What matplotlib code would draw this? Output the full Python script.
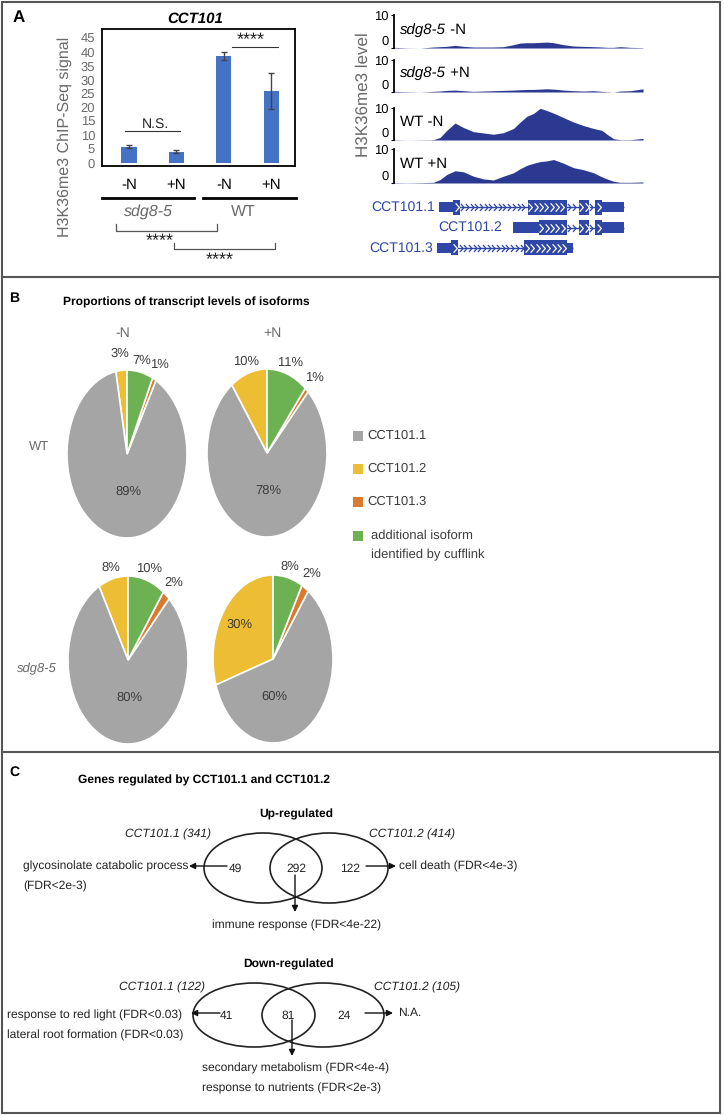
import matplotlib
matplotlib.use('Agg')
import matplotlib.pyplot as plt
from matplotlib import font_manager as fm
from matplotlib.patches import Ellipse, Rectangle
from matplotlib.path import Path
import numpy as np

W, H = 724, 1115

# ---------------- data ----------------
# panel A: ChIP-seq signal at CCT101
conditions = ['-N', '+N', '-N', '+N']
genotypes = ['sdg8-5', 'WT']
chip_signal = [6.0, 4.2, 38.5, 26.0]
chip_err = [0.7, 0.5, 1.4, 6.5]

# panel A: browser tracks (position along locus, coverage)
track_names = [('sdg8-5', ' -N'), ('sdg8-5', ' +N'), ('', 'WT -N'), ('', 'WT +N')]
track_pos = [222, 260, 300, 340, 360, 380, 405, 430, 460, 490, 520, 550, 580, 600,
             620, 640, 660, 680, 700, 730, 760, 790, 820, 845, 860, 880, 900, 930, 968]
sdg_minus = [0.2, 0.05, 0.0, 0.3, 0.4, 0.5, 0.8, 0.5, 0.3, 0.3, 0.3, 0.4, 1.0, 1.5,
             1.6, 1.6, 1.7, 1.8, 1.6, 1.0, 0.6, 0.5, 0.4, 0.3, 0.2, 0.2, 0.4, 0.2, 0.1]
sdg_plus = [0.2, 0.1, 0.0, 0.2, 0.3, 0.5, 0.6, 0.4, 0.2, 0.3, 0.4, 0.5, 0.6, 0.7,
            0.8, 0.8, 0.9, 1.0, 0.9, 0.6, 0.4, 0.3, 0.4, 0.2, 0.1, 0.0, 0.3, 0.4, 1.0]
wt_minus = [0.1, 0.0, 0.05, 0.1, 0.8, 3.0, 5.3, 3.9, 2.6, 2.2, 1.8, 2.3, 3.6, 5.6,
            7.4, 8.3, 9.9, 9.2, 8.4, 7.0, 5.6, 4.5, 3.6, 3.0, 1.8, 0.4, 0.1, 0.1, 0.5]
wt_plus = [0.1, 0.05, 0.1, 0.2, 1.0, 2.5, 3.6, 3.3, 2.0, 1.2, 0.9, 2.0, 3.0, 4.2,
           5.2, 5.8, 6.3, 6.5, 6.9, 5.8, 4.5, 3.9, 3.0, 1.8, 1.2, 0.5, 0.2, 0.2, 0.3]
track_values = [sdg_minus, sdg_plus, wt_minus, wt_plus]

# gene models (same position units as tracks)
gene_names = ['CCT101.1', 'CCT101.2', 'CCT101.3']
gene_utr = [[(358, 400), (845, 912)], [(578, 655), (845, 910)], [(350, 392), (740, 758)]]
gene_cds = [[(400, 420), (622, 740), (775, 805), (825, 845)],
            [(655, 740), (775, 805), (825, 845)],
            [(392, 415), (612, 740)]]

# panel B: isoform proportions (%)
isoforms = ['CCT101.1', 'CCT101.2', 'CCT101.3', 'additional isoform\nidentified by cufflink']
pct_wt_minus = [89, 3, 1, 7]
pct_wt_plus = [78, 10, 1, 11]
pct_sdg_minus = [80, 8, 2, 10]
pct_sdg_plus = [60, 30, 2, 8]

# panel C: venn counts
up_counts = [49, 292, 122]
down_counts = [41, 81, 24]
up_terms_left = ['glycosinolate catabolic process', '(FDR<2e-3)']
up_terms_right = ['cell death (FDR<4e-3)']
up_terms_both = ['immune response (FDR<4e-22)']
down_terms_left = ['response to red light (FDR<0.03)', 'lateral root formation (FDR<0.03)']
down_terms_right = ['N.A.']
down_terms_both = ['secondary metabolism (FDR<4e-4)', 'response to nutrients (FDR<2e-3)']

# ---------------- style ----------------
def has_font(name):
    try:
        fm.findfont(fm.FontProperties(family=name), fallback_to_default=False)
        return True
    except Exception:
        return False

REG = 'Liberation Sans' if has_font('Liberation Sans') else 'DejaVu Sans'
if has_font('Liberation Sans Narrow'):
    NAR, NS = 'Liberation Sans Narrow', 1.0
else:
    NAR, NS = REG, 0.84
plt.rcParams['font.family'] = [REG, 'DejaVu Sans']
plt.rcParams['text.hinting'] = 'no_hinting'
plt.rcParams['text.hinting_factor'] = 1

BAR_BLUE = '#4472c4'
TRACK = '#2b3990'
GENE = '#2e46a6'
GREY_TXT = '#6a6a6a'
PIE_COLORS = ['#a5a5a5', '#edbd33', '#d97a30', '#6db252']
PIE_TXT = '#3c3c3c'
FS = 10.2 * NS  # narrow text size

fig = plt.figure(figsize=(W / 100, H / 100), dpi=100)


def px_axes(l, t, r, b):
    return fig.add_axes([l / W, 1 - b / H, (r - l) / W, (b - t) / H])


ov = fig.add_axes([0, 0, 1, 1])
ov.set_xlim(0, W)
ov.set_ylim(H, 0)
ov.axis('off')
ov.set_zorder(10)

# frame
ov.add_patch(Rectangle((2, 2), 718, 1111, fill=False, ec='#555555', lw=1.5))
ov.plot([2, 720], [277, 277], color='#555555', lw=1.5)
ov.plot([2, 720], [752, 752], color='#555555', lw=1.5)

# ---------------- panel A: bars ----------------
ov.text(19, 18, 'A', fontsize=12, fontweight='bold', ha='center', va='center')
ov.text(195, 19, 'CCT101', fontsize=10.5, fontweight='bold', style='italic', ha='center', va='center')

axb = px_axes(102, 29, 295, 166)
xb = np.arange(len(chip_signal))
axb.bar(xb, chip_signal, width=0.32, color=BAR_BLUE, yerr=chip_err,
        error_kw=dict(ecolor='#444444', elinewidth=1, capsize=2, capthick=1))
axb.set_xlim(-0.57, 3.5)
axb.set_ylim(-1, 48.2)
axb.set_yticks(range(0, 50, 5))
axb.tick_params(axis='y', length=0, labelsize=9.5, labelcolor=GREY_TXT, pad=5)
axb.set_xticks(xb, conditions)
axb.tick_params(axis='x', length=0, labelsize=11, pad=9)
for s in axb.spines.values():
    s.set_linewidth(1.3)

ov.text(65, 137, 'H3K36me3 ChIP-Seq signal', rotation=90, fontsize=11.5, color=GREY_TXT,
        ha='center', va='center')
# N.S. and significance marks
ov.plot([125, 180], [131, 131], color='#333333', lw=0.8)
ov.text(155, 124, 'N.S.', fontsize=10, ha='center', va='center', color='#222222')
ov.plot([232, 278], [47, 47], color='#333333', lw=0.8)
ov.text(251, 45, '****', fontsize=13, ha='center', va='baseline', color='#222222')
# genotype lines
ov.plot([102, 194], [198, 198], color='black', lw=2)
ov.plot([203, 296], [198, 198], color='black', lw=2)
ov.text(148, 212, genotypes[0], fontsize=11.5, style='italic', color=GREY_TXT, ha='center', va='center')
ov.text(243, 212, genotypes[1], fontsize=11.5, color=GREY_TXT, ha='center', va='center')
# lower brackets
ov.plot([116, 116, 217, 217], [224, 231, 231, 224], color='#555555', lw=0.9)
ov.text(160, 246, '****', fontsize=13, ha='center', va='baseline', color='#222222')
ov.plot([174, 174, 275, 275], [243, 249, 249, 243], color='#555555', lw=0.9)
ov.text(220, 265, '****', fontsize=13, ha='center', va='baseline', color='#222222')

# ---------------- panel A: tracks ----------------
ov.text(363, 95, 'H3K36me3 level', rotation=90, fontsize=12, color=GREY_TXT, ha='center', va='center')
track_boxes = [(15, 48), (60, 92), (108, 140), (149, 183)]
track_label_y = [30, 73, 122, 164]
renderer = fig.canvas.get_renderer()
for vals, (it, rest), (t, b), ly in zip(track_values, track_names, track_boxes, track_label_y):
    ax = px_axes(394, t, 643, b)
    ax.fill_between(track_pos, vals, 0, color=TRACK, lw=0)
    ax.set_xlim(222, 968)
    ax.set_ylim(0, 10)
    for s in ['top', 'right', 'bottom']:
        ax.spines[s].set_visible(False)
    ax.spines['left'].set_linewidth(1.3)
    ax.set_xticks([])
    ax.set_yticks([0, 10])
    ax.tick_params(axis='y', length=2, labelsize=9.5, pad=2)
    ax.get_yticklabels()[0].set_va('bottom')
    ax.patch.set_alpha(0)
    x0 = 400
    if it:
        tt = ov.text(x0, ly, it, fontsize=10.5, style='italic', ha='left', va='center')
        x0 += tt.get_window_extent(renderer).width
    ov.text(x0, ly, rest, fontsize=10.5, ha='left', va='center')

# gene models
axg = px_axes(394, 195, 643, 260)
axg.set_xlim(222, 968)
axg.set_ylim(2.6, -0.6)
axg.axis('off')
chev = Path([(-0.45, 1), (0.45, 0), (-0.45, -1)], [Path.MOVETO, Path.LINETO, Path.LINETO])
label_end = [345, 545, 340]
for row, (name, utr, cds) in enumerate(zip(gene_names, gene_utr, gene_cds)):
    start = min(a for a, _ in utr + cds)
    end = max(b for _, b in utr + cds)
    axg.plot([start, end], [row, row], color=GENE, lw=1, solid_capstyle='butt')
    parts = sorted(cds)
    for (a1, b1), (a2, b2) in zip(parts[:-1], parts[1:]):
        xs = np.arange(b1 + 7, a2 - 3, 14)
        axg.plot(xs, [row] * len(xs), ls='none', marker=chev, ms=5, mew=0.9,
                 mec=GENE, mfc='none')
    for a, b in utr:
        axg.add_patch(Rectangle((a, row - 0.25), b - a, 0.5, color=GENE, lw=0))
    for a, b in cds:
        axg.add_patch(Rectangle((a, row - 0.37), b - a, 0.74, color=GENE, lw=0))
        xs = np.arange(a + 8, b - 4, 16) if b - a > 25 else [(a + b) / 2]
        axg.plot(xs, [row] * len(xs), ls='none', marker=chev, ms=6, mew=0.9,
                 mec='white', mfc='none')
    axg.text(label_end[row], row, name, color=GENE, fontsize=10, ha='right', va='center')

# ---------------- panel B: pies ----------------
ov.text(14, 298, 'B', fontsize=12 * NS, fontweight='bold', family=NAR, ha='center', va='center')
ov.text(63, 302, 'Proportions of transcript levels of isoforms', fontsize=10.3 * NS,
        fontweight='bold', family=NAR, ha='left', va='center')
ov.text(123, 333, '-N', fontsize=11.8 * NS, family=NAR, color=GREY_TXT, ha='center', va='center')
ov.text(272, 333, '+N', fontsize=11.8 * NS, family=NAR, color=GREY_TXT, ha='center', va='center')
ov.text(39, 447, 'WT', fontsize=11.5 * NS, family=NAR, color=GREY_TXT, ha='center', va='center')
ov.text(37, 669, 'sdg8-5', fontsize=11.5 * NS, family=NAR, style='italic', color=GREY_TXT,
        ha='center', va='center')

pies = [pct_wt_minus, pct_wt_plus, pct_sdg_minus, pct_sdg_plus]
pie_boxes = [(67, 370, 187, 538), (207, 369, 327, 537), (68, 576, 188, 744), (213, 575, 333, 743)]
order = [1, 0, 2, 3]
for vals, box in zip(pies, pie_boxes):
    ax = px_axes(*box)
    v = [vals[i] for i in order]
    c = [PIE_COLORS[i] for i in order]
    wedges, _ = ax.pie(v, colors=c, startangle=90, counterclock=True,
                       wedgeprops=dict(edgecolor='white', linewidth=1.2))
    ax.set_aspect('auto')
    ax.set_xlim(-1, 1)
    ax.set_ylim(-1, 1)
    for w, val, idx in zip(wedges, v, order):
        mid = np.deg2rad((w.theta1 + w.theta2) / 2)
        if idx == 0:
            px, py = 0.02, -0.45
        elif val >= 20:
            px, py = 0.7 * np.cos(mid), 0.7 * np.sin(mid)
        else:
            r = 1.14 if val >= 5 else 1.2
            px, py = r * np.cos(mid), r * np.sin(mid)
        ax.text(px, py, f'{val}%', fontsize=10.8 * NS, family=NAR, color=PIE_TXT,
                ha='center', va='center', clip_on=False)

# legend
leg_y = [436, 469, 502, 536]
for name, col, y in zip(isoforms, PIE_COLORS, leg_y):
    ov.add_patch(Rectangle((353, y - 5), 10, 10, color=col, lw=0))
    lines = name.split('\n')
    x0 = 367 if len(lines) == 1 else 371
    for k, ln in enumerate(lines):
        ov.text(x0, y + 19 * k, ln, fontsize=10.8 * NS, family=NAR, color=PIE_TXT,
                ha='left', va='center')

# ---------------- panel C: venn ----------------
TXT = '#222222'
ov.text(14, 772, 'C', fontsize=12 * NS, fontweight='bold', family=NAR, ha='center', va='center')
ov.text(78, 780, 'Genes regulated by CCT101.1 and CCT101.2', fontsize=10.3 * NS,
        fontweight='bold', family=NAR, ha='left', va='center')


def venn(counts, cy, cl, cr, rx, ry, title, names_x, top_y, left_terms, right_terms,
         both_terms, arrows):
    ov.text((cl + cr) / 2, cy - ry - 19, title, fontsize=10.3 * NS, fontweight='bold',
            family=NAR, ha='center', va='center')
    for c in (cl, cr):
        ov.add_patch(Ellipse((c, cy), 2 * rx, 2 * ry, fill=False, ec='#222222', lw=1.2))
    a_only, both, b_only = counts
    ov.text(names_x[0], top_y, f'CCT101.1 ({a_only + both})', fontsize=FS,
            family=NAR, style='italic', ha='center', va='center', color=TXT)
    ov.text(names_x[1], top_y, f'CCT101.2 ({both + b_only})', fontsize=FS,
            family=NAR, style='italic', ha='center', va='center', color=TXT)
    num_x = [cl - 28, (cl + cr) / 2, cr + 21]
    for x, n in zip(num_x, counts):
        ov.text(x, cy + 1, str(n), fontsize=FS, family=NAR, ha='center', va='center',
                color=TXT)
    (lx0, lx1, ay), (rx0, rx1), (dx, dy0, dy1), (ltx, lty), (rtx,), (btx, bty, bha) = arrows
    ap = dict(arrowstyle='-|>', color='#111111', lw=1, mutation_scale=9, shrinkA=0, shrinkB=0)
    ov.annotate('', xy=(lx1, ay), xytext=(lx0, ay), arrowprops=ap)
    ov.annotate('', xy=(rx1, ay), xytext=(rx0, ay), arrowprops=ap)
    ov.annotate('', xy=(dx, dy1), xytext=(dx, dy0), arrowprops=ap)
    for k, t in enumerate(left_terms):
        ov.text(ltx, lty + 20 * k, t, fontsize=FS, family=NAR, ha='left', va='center', color=TXT)
    for k, t in enumerate(right_terms):
        ov.text(rtx, ay, t, fontsize=FS, family=NAR, ha='left', va='center', color=TXT)
    for k, t in enumerate(both_terms):
        ov.text(btx, bty + 20 * k, t, fontsize=FS, family=NAR, ha=bha, va='center', color=TXT)


venn(up_counts, 868, 263, 329, 59, 35, 'Up-regulated', (168, 412), 834,
     up_terms_left, up_terms_right, up_terms_both,
     ((227, 189, 866), (366, 396), (295, 875, 912), (23, 866), (399,), (297, 925, 'center')))
venn(down_counts, 1015, 254, 323, 61, 32, 'Down-regulated', (162, 417), 987,
     down_terms_left, down_terms_right, down_terms_both,
     ((220, 191, 1013), (365, 393), (292, 1020, 1056), (7, 1015), (398,), (202, 1068, 'left')))

fig.savefig('out.png', dpi=100)
